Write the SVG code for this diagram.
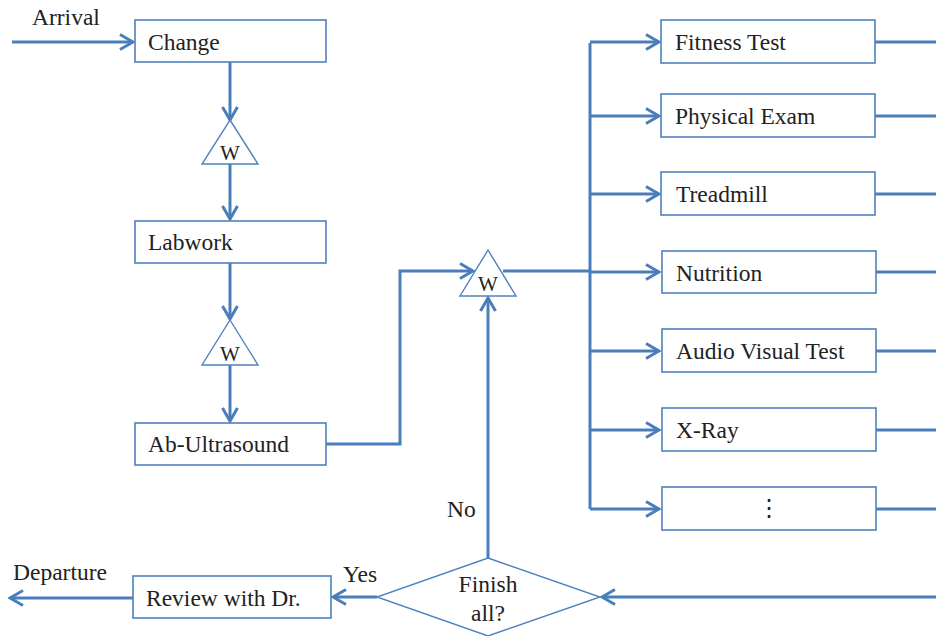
<svg xmlns="http://www.w3.org/2000/svg" width="936" height="636" viewBox="0 0 936 636">
<style>
.box{fill:#fff;stroke:#4f81bd;stroke-width:1.6}
.tri{fill:#fff;stroke:#4f81bd;stroke-width:1.4}
.c{fill:none;stroke:#4a7ebb;stroke-width:3}
text{font-family:'Liberation Serif','Times New Roman',Tinos,'DejaVu Serif',serif;fill:#222}
.t{font-size:23.5px}
.w{font-size:21px;text-anchor:middle}
.m{text-anchor:middle}
</style>
<defs>
<marker id="a" markerWidth="16" markerHeight="18" viewBox="-14 -9 16 18" refX="0" refY="0" orient="auto" markerUnits="userSpaceOnUse">
<path d="M-13,-7.5 L0,0 L-13,7.5" fill="none" stroke="#4a7ebb" stroke-width="3"/>
</marker>
</defs>
<rect width="936" height="636" fill="#fff"/>
<g id="connectors">
<path class="c" d="M12,42 H133" marker-end="url(#a)"/>
<path class="c" d="M230,62 V120" marker-end="url(#a)"/>
<path class="c" d="M230,164 V219" marker-end="url(#a)"/>
<path class="c" d="M230,263 V319" marker-end="url(#a)"/>
<path class="c" d="M230,365 V421" marker-end="url(#a)"/>
<path class="c" d="M326,444 H400 V271 H473" marker-end="url(#a)"/>
<path class="c" d="M503,271 H590"/>
<path class="c" d="M590,43 V509"/>
<path class="c" d="M590,42 H659" marker-end="url(#a)"/>
<path class="c" d="M590,116 H659" marker-end="url(#a)"/>
<path class="c" d="M590,194 H659" marker-end="url(#a)"/>
<path class="c" d="M590,272 H659" marker-end="url(#a)"/>
<path class="c" d="M590,351 H659" marker-end="url(#a)"/>
<path class="c" d="M590,430 H659" marker-end="url(#a)"/>
<path class="c" d="M590,509 H659" marker-end="url(#a)"/>
<path class="c" d="M875,42 H936 M875,116 H936 M875,194 H936 M875,272 H936 M875,351 H936 M875,430 H936 M875,509 H936"/>
<path class="c" d="M936,597 H602" marker-end="url(#a)"/>
<path class="c" d="M488,558 V298" marker-end="url(#a)"/>
<path class="c" d="M377,597 H333" marker-end="url(#a)"/>
<path class="c" d="M133,598 H10" marker-end="url(#a)"/>
</g>
<g id="labels">
<text class="t" x="32" y="25">Arrival</text>
<text class="t" x="13" y="580">Departure</text>
<text class="t" x="343" y="582">Yes</text>
<text class="t" x="447" y="517">No</text>
</g>
<g id="change"><rect class="box" x="135" y="20" width="191" height="42"/><text class="t" x="148" y="50">Change</text></g>
<g id="w1"><polygon class="tri" points="230,120 258,164 202,164"/><text class="w" x="230" y="160">W</text></g>
<g id="labwork"><rect class="box" x="135" y="221" width="191" height="42"/><text class="t" x="148" y="250">Labwork</text></g>
<g id="w2"><polygon class="tri" points="230,320 258,365 202,365"/><text class="w" x="230" y="361">W</text></g>
<g id="ultrasound"><rect class="box" x="135" y="423" width="191" height="42"/><text class="t" x="148" y="452">Ab-Ultrasound</text></g>
<g id="w3"><polygon class="tri" points="488,250 516,296 460,296"/><text class="w" x="488" y="291">W</text></g>
<g id="fitness"><rect class="box" x="661" y="20" width="214" height="43"/><text class="t" x="675" y="50">Fitness Test</text></g>
<g id="physical"><rect class="box" x="661" y="94" width="214" height="43"/><text class="t" x="675" y="124">Physical Exam</text></g>
<g id="treadmill"><rect class="box" x="661" y="172" width="214" height="43"/><text class="t" x="676" y="202">Treadmill</text></g>
<g id="nutrition"><rect class="box" x="662" y="251" width="214" height="42"/><text class="t" x="676" y="281">Nutrition</text></g>
<g id="audio"><rect class="box" x="662" y="329" width="214" height="43"/><text class="t" x="676" y="359">Audio Visual Test</text></g>
<g id="xray"><rect class="box" x="662" y="408" width="214" height="43"/><text class="t" x="676" y="438">X-Ray</text></g>
<g id="more"><rect class="box" x="662" y="487" width="214" height="43"/><text class="t m" x="769" y="516">⋮</text></g>
<g id="finish"><polygon class="tri" points="488,558 600,597 488,636 377,597"/><text class="t m" x="488" y="592">Finish</text><text class="t m" x="488" y="621">all?</text></g>
<g id="review"><rect class="box" x="133" y="576" width="198" height="42"/><text class="t" x="146" y="606">Review with Dr.</text></g>
</svg>
